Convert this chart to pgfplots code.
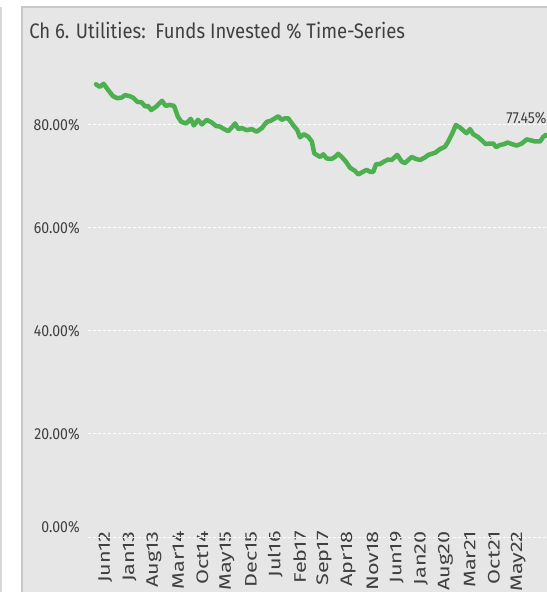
\documentclass[border=0pt]{standalone}
\usepackage{pgfplots}
\pgfplotsset{compat=1.18}
\usepackage{fontspec}
\setmainfont[FakeStretch=0.88]{Fira Sans}
\newfontfamily\xlabfont[FakeStretch=1.3]{Fira Sans}

\definecolor{panel}{HTML}{E6E6E6}
\definecolor{panelborder}{HTML}{C8C8C8}
\definecolor{linegreen}{HTML}{4CB050}
\definecolor{txt}{HTML}{404040}

\begin{document}
\begin{tikzpicture}
% 1 px of the reference = 0.6pt; data (0,0) sits at px (96,537)
\begin{scope}[x=0.6pt, y=-0.6pt, shift={(-57.6pt,322.2pt)}]
  \fill[panel] (22,7) rectangle (600,620);
  \draw[panelborder, line width=1.2pt] (22,620) -- (22,7) -- (600,7);
  \draw[panelborder!70, line width=1.2pt] (1.5,7) -- (1.5,620);
  \node[anchor=west, inner sep=0pt, text=txt, font=\fontsize{12.6}{14}\selectfont] at (29,31)
    {Ch 6. Utilities:\ \ Funds Invested \% Time-Series};
\end{scope}

\begin{axis}[
    anchor=origin, at={(0,0)},
    x=2.082pt, y=3.09pt,
    xmin=-2.3, xmax=140, ymin=0, ymax=95,
    enlargelimits=false,
    axis line style={draw=none},
    tick style={draw=none},
    ytick={20,40,60,80},
    yticklabels={20.00\%,40.00\%,60.00\%,80.00\%},
    extra y ticks={0},
    extra y tick labels={0.00\%},
    extra y tick style={yticklabel style={yshift=6pt}},
    ymajorgrids,
    major grid style={white, line width=0.6pt, dash pattern=on 1.8pt off 1.2pt},
    yticklabel style={anchor=east, inner sep=0pt, xshift=-4.8pt, text=txt,
        font=\fontsize{9.6}{11}\selectfont},
    xtick={0,7,14,21,28,35,42,49,56,63,70,77,84,91,98,105,112,119},
    xticklabels={Jun12,Jan13,Aug13,Mar14,Oct14,May15,Dec15,Jul16,Feb17,Sep17,
        Apr18,Nov18,Jun19,Jan20,Aug20,Mar21,Oct21,May22},
    xticklabel style={rotate=90, anchor=east, inner sep=0pt, xshift=3.6pt, yshift=-5.6pt,
        text=txt, font=\xlabfont\fontsize{10}{11}\selectfont},
    clip=false,
]
\addplot[linegreen, line width=2.7pt, line join=round, line cap=round] coordinates {
(0,87.9) (1.1,87.4) (2.2,88.0) (3.5,86.8) (4.9,85.6) (6.1,85.2) (7.3,85.3) (8.4,85.8)
(9.7,85.6) (10.7,85.3) (11.9,84.5) (13.1,84.4) (14.2,83.6) (15.0,83.7) (15.9,82.9)
(17.4,83.6) (19.0,84.7) (20.1,83.7) (21.2,83.9) (22.5,83.7) (23.6,81.6) (24.6,80.6)
(26.0,80.3) (27.3,81.2) (28.2,79.9) (29.4,81.0) (30.5,80.1) (31.9,81.0) (33.3,80.5)
(34.6,79.8) (35.7,79.7) (36.9,79.2) (38.1,78.8) (39.1,79.5) (40.1,80.3) (41.0,79.2)
(42.0,79.4) (43.4,79.0) (44.9,79.2) (46.3,78.7) (47.8,79.4) (49.2,80.6) (50.3,80.8)
(51.6,81.3) (52.5,81.7) (53.5,81.0) (54.5,81.3) (55.4,81.3) (56.9,79.9) (58.0,79.0)
(58.8,77.6) (59.9,78.2) (61.2,77.7) (62.2,76.8) (62.9,74.5) (63.6,74.2) (64.6,73.8)
(65.5,74.3) (66.5,73.5) (67.9,73.4) (68.9,73.8) (69.8,74.4) (70.8,73.8) (72.0,72.9)
(73.2,71.7) (74.6,71.1) (75.6,70.4) (76.9,70.9) (78.0,71.3) (79.0,70.9) (79.9,70.9)
(80.7,72.4) (81.8,72.4) (83.0,72.9) (84.2,73.3) (85.2,73.2) (86.8,74.2) (88.1,72.9)
(89.0,72.6) (90.0,73.2) (91.0,73.8) (92.2,73.4) (93.4,73.2) (94.8,73.7) (95.8,74.2)
(97.7,74.6) (99.1,75.3) (100.6,75.8) (101.5,76.8) (102.7,78.4) (103.7,80.0) (104.9,79.5)
(105.9,78.9) (106.8,78.4) (107.8,79.2) (108.7,78.2) (110.0,77.7) (111.2,77.0) (112.3,76.3)
(113.5,76.4) (114.5,76.4) (115.3,75.7) (116.4,76.1) (117.7,76.3) (118.6,76.6) (119.8,76.3)
(121.2,76.0) (122.7,76.4) (124.1,77.2) (125.4,77.0) (126.5,76.8) (128.0,76.8) (128.9,77.7)
(129.7,78.1) (131.0,77.45)
};
\node[anchor=west, inner sep=0pt, text=txt, font=\fontsize{9.6}{11}\selectfont]
    at (axis cs:118.2,81.4) {77.45\%};
\end{axis}

\pgfresetboundingbox
\path[use as bounding box] (-57.6pt,-33pt) rectangle (270pt,322.2pt);
\end{tikzpicture}
\end{document}
